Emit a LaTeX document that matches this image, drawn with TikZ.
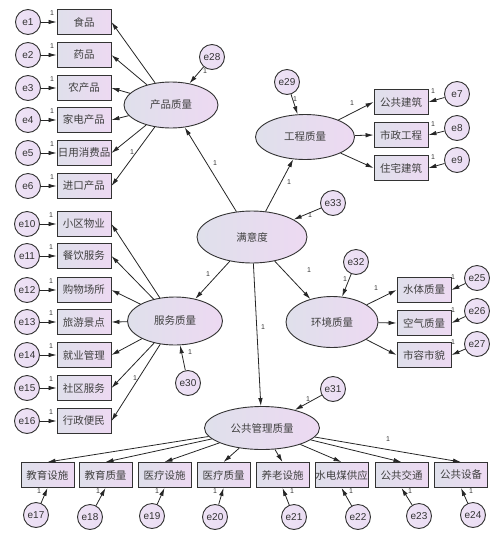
\documentclass[tikz,border=0pt]{standalone}
\usepackage{fontspec}
\setmainfont{Liberation Sans}
\newfontfamily\cjk{Noto Sans CJK SC}
\usetikzlibrary{shapes.geometric,arrows.meta}
\definecolor{cA}{HTML}{DFE0EB}
\definecolor{cB}{HTML}{EDD9F2}
\definecolor{cE}{HTML}{EADCF3}
\definecolor{cL}{HTML}{333333}
\begin{document}
\begin{tikzpicture}[x=1pt,y=-1pt,
  obs/.style={rectangle, draw=cL, line width=0.9pt, minimum width=54pt, minimum height=25pt, inner sep=0pt, left color=cA, right color=cB, font=\cjk\fontsize{10.5}{12}\selectfont, text=black!75},
  lat/.style={ellipse, draw=cL, line width=0.9pt, inner sep=0pt, left color=cA, right color=cB, font=\cjk\fontsize{10.5}{12}\selectfont, text=black!75},
  err/.style={circle, draw=cL, line width=0.9pt, minimum size=25pt, inner sep=0pt, left color=cE!80!white, right color=cE, font=\fontsize{10}{12}\selectfont, text=black!80},
  arr/.style={-{Latex[length=8pt,width=4.5pt]}, line width=0.8pt, draw=black!85},
  one/.style={font=\fontsize{7}{8}\selectfont, inner sep=0pt, text=black!80}]
\useasboundingbox (0,0) rectangle (499,539);

% latent variables
\node[lat, minimum width=110pt, minimum height=52pt] (M) at (252,237) {满意度};
\node[lat, minimum width=94pt, minimum height=46pt] (P) at (171,105) {产品质量};
\node[lat, minimum width=99pt, minimum height=45pt] (E) at (305,137) {工程质量};
\node[lat, minimum width=95pt, minimum height=48pt] (S) at (175,321) {服务质量};
\node[lat, minimum width=92pt, minimum height=51pt] (V) at (332,322) {环境质量};
\node[lat, minimum width=115pt, minimum height=43pt] (G) at (262,428) {公共管理质量};

% latent errors
\node[err] (e28) at (212,57) {e28};
\node[err] (e29) at (287,82) {e29};
\node[err] (e30) at (188,383) {e30};
\node[err] (e31) at (333,389) {e31};
\node[err] (e32) at (356,262) {e32};
\node[err] (e33) at (333,203) {e33};

% product quality indicators
\node[obs] (o1) at (84,22) {食品};
\node[obs] (o2) at (84,55) {药品};
\node[obs] (o3) at (84,88) {农产品};
\node[obs] (o4) at (84,120) {家电产品};
\node[obs] (o5) at (84,153) {日用消费品};
\node[obs] (o6) at (84,186) {进口产品};
\node[err] (e1) at (28,22) {e1};
\node[err] (e2) at (28,55) {e2};
\node[err] (e3) at (28,88) {e3};
\node[err] (e4) at (28,120) {e4};
\node[err] (e5) at (28,153) {e5};
\node[err] (e6) at (28,186) {e6};

% service quality indicators
\node[obs] (o10) at (84,224) {小区物业};
\node[obs] (o11) at (84,256) {餐饮服务};
\node[obs] (o12) at (84,290) {购物场所};
\node[obs] (o13) at (84,322) {旅游景点};
\node[obs] (o14) at (84,355) {就业管理};
\node[obs] (o15) at (84,388) {社区服务};
\node[obs] (o16) at (84,421) {行政便民};
\node[err] (e10) at (27,224) {e10};
\node[err] (e11) at (27,256) {e11};
\node[err] (e12) at (27,290) {e12};
\node[err] (e13) at (27,322) {e13};
\node[err] (e14) at (27,355) {e14};
\node[err] (e15) at (27,388) {e15};
\node[err] (e16) at (27,421) {e16};

% engineering quality indicators
\node[obs] (o7) at (401,102) {公共建筑};
\node[obs] (o8) at (401,135) {市政工程};
\node[obs] (o9) at (401,168) {住宅建筑};
\node[err] (e7) at (457,94) {e7};
\node[err] (e8) at (457,128) {e8};
\node[err] (e9) at (457,160) {e9};

% environment quality indicators
\node[obs] (o25) at (424,290) {水体质量};
\node[obs] (o26) at (424,323) {空气质量};
\node[obs] (o27) at (424,355) {市容市貌};
\node[err] (e25) at (477,278) {e25};
\node[err] (e26) at (477,311) {e26};
\node[err] (e27) at (477,344) {e27};

% public management indicators
\node[obs, minimum width=53pt] (o17) at (47.5,475) {教育设施};
\node[obs, minimum width=53pt] (o18) at (105.5,475) {教育质量};
\node[obs, minimum width=53pt] (o19) at (164.5,475) {医疗设施};
\node[obs, minimum width=53pt] (o20) at (223.5,475) {医疗质量};
\node[obs, minimum width=53pt] (o21) at (282.5,475) {养老设施};
\node[obs, minimum width=53pt] (o22) at (341.5,475) {水电煤供应};
\node[obs, minimum width=53pt] (o23) at (401.5,475) {公共交通};
\node[obs, minimum width=53pt] (o24) at (461,475) {公共设备};
\node[err] (e17) at (36,515) {e17};
\node[err] (e18) at (90,517) {e18};
\node[err] (e19) at (152,516) {e19};
\node[err] (e20) at (215,517) {e20};
\node[err] (e21) at (294,517) {e21};
\node[err] (e22) at (358,517) {e22};
\node[err] (e23) at (419,516) {e23};
\node[err] (e24) at (473,515) {e24};

% structural paths
\foreach \t in {P,E,S,V,G} \draw[arr] (M) -- (\t);
\draw[arr] (e28) -- (P);
\draw[arr] (e29) -- (E);
\draw[arr] (e30) -- (S);
\draw[arr] (e31) -- (G);
\draw[arr] (e32) -- (V);
\draw[arr] (e33) -- (M);

% loadings
\foreach \i in {1,...,6} {\draw[arr] (P) -- (o\i.east); \draw[arr] (e\i) -- (o\i.west);}
\foreach \i in {10,...,16} {\draw[arr] (S) -- (o\i.east); \draw[arr] (e\i) -- (o\i.west);}
\foreach \i in {7,8,9} {\draw[arr] (E) -- (o\i.west); \draw[arr] (e\i) -- (o\i.east);}
\foreach \i in {25,26,27} {\draw[arr] (V) -- (o\i.west); \draw[arr] (e\i) -- (o\i.east);}
\foreach \i in {17,...,24} {\draw[arr] (G) -- (o\i.north); \draw[arr] (e\i) -- (o\i.south);}

% "1" labels: structural
\node[one] (lP) at (215,163) {1};
\node[one] (lE) at (289,182) {1};
\node[one] (lS) at (208,274) {1};
\node[one] (lV) at (309,270) {1};
\node[one] (lG) at (263,327) {1};
% loadings fixed
\node[one] (lPo) at (132,152) {1};
\node[one] (lSo) at (135,378) {1};
\node[one] (lEo) at (352,103) {1};
\node[one] (lVo) at (376,288) {1};
\node[one] (lGo) at (388,439) {1};
% latent errors
\node[one] (l28) at (205,71) {1};
\node[one] (l29) at (295,99) {1};
\node[one] (l30) at (190,352) {1};
\node[one] (l31) at (308,399) {1};
\node[one] (l32) at (345,279) {1};
\node[one] (l33) at (310,215) {1};
% indicator errors
\foreach \y [count=\k] in {22,55,88,120,153,186} \node[one] (la\k) at (52,\y-9) {1};
\foreach \y [count=\k] in {224,256,290,322,355,388,421} \node[one] (lb\k) at (51,\y-9) {1};
\foreach \y [count=\k] in {102,135,168} \node[one] (lc\k) at (433,\y-11) {1};
\foreach \y [count=\k] in {290,323,355} \node[one] (ld\k) at (453,\y-13) {1};
\foreach \x [count=\k] in {39,98,157,215,292,351,410,471} \node[one] (le\k) at (\x,491) {1};
\end{tikzpicture}
\end{document}
